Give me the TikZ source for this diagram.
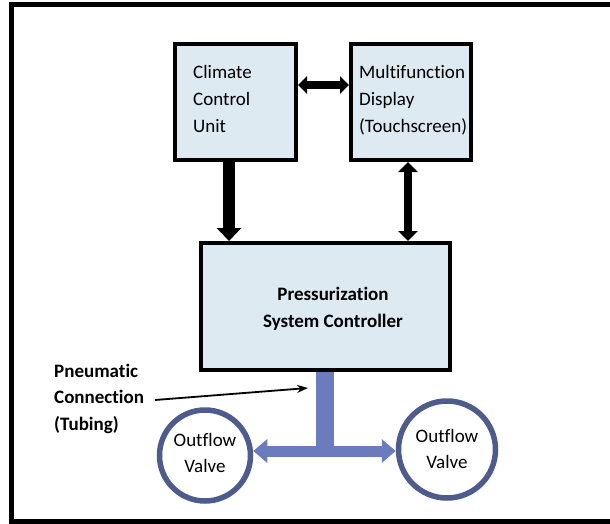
\documentclass[tikz,border=0pt]{standalone}
\usepackage{fontspec}
\setmainfont{Carlito}[Ligatures=NoCommon]
\usetikzlibrary{arrows.meta}
\definecolor{boxfill}{HTML}{DEEAF2}
\definecolor{tube}{HTML}{6A7CBD}
\definecolor{valveedge}{HTML}{4D5C8C}
\tikzset{
  unitbox/.style={draw=black, line width=4pt, fill=boxfill},
  lbl/.style={inner sep=0pt, align=left, font=\fontsize{19}{27}\selectfont},
  clbl/.style={inner sep=0pt, align=center, font=\fontsize{19}{26}\selectfont},
  valve/.style={circle, draw=valveedge, line width=5.5pt, fill=white, inner sep=0pt},
}
\begin{document}
\begin{tikzpicture}[x=1pt, y=-1pt]
\useasboundingbox (0,0) rectangle (610,524);
\fill[white] (0,0) rectangle (610,524);
% outer frame, open on the right
\begin{scope}
\clip (0,0) rectangle (610,524);
\draw[line width=4.5pt] (620,4.5) -- (11.5,4.5) -- (11.5,521.5) -- (620,521.5);
\end{scope}

% boxes
\node[unitbox, minimum width=121pt, minimum height=116pt] (ccu) at (235.5,102) {};
\node[unitbox, minimum width=120pt, minimum height=116pt] (mfd) at (411,102) {};
\node[unitbox, minimum width=249pt, minimum height=127pt] (psc) at (325.5,306.5) {};

% labels (anchored on the baseline of their last line)
\node[lbl, anchor=base west] (ccut) at (193,132) {Climate\\Control\\Unit};
\node[lbl, anchor=base west] (mfdt) at (359,132) {Multifunction\\Display\\(Touchscreen)};
\node[clbl, anchor=base, font=\fontsize{19}{27}\bfseries] (psct) at (333,327) {Pressurization\\System Controller};

% signal arrows
\draw[line width=11.5pt, -{Triangle[length=13pt, width=24pt]}] (ccu.south -| 229,0) -- (psc.north -| 229,0);
\draw[line width=7.5pt, {Triangle[length=10pt, width=19pt]}-{Triangle[length=10pt, width=19pt]}] (mfd.south -| 408,0) -- (psc.north -| 408,0);
\draw[line width=8pt, {Triangle[length=9pt, width=17pt]}-{Triangle[length=9pt, width=17pt]}] (ccu.east |- 0,85) -- (mfd.west |- 0,85);

% pneumatic tubing
\coordinate (tee) at (325,451);
\node[valve, minimum size=91pt] (lv) at (205,455.5) {};
\node[valve, minimum size=97pt] (rv) at (447,449.5) {};
\fill[tube] (316,372) rectangle (334,451);
\draw[tube, line width=11pt, {Triangle[length=14pt, width=23pt]}-{Triangle[length=14pt, width=23pt]}] (lv.east |- tee) -- (rv.west |- tee);

\node[clbl, anchor=base] (lvt) at (205,472) {Outflow\\Valve};
\node[clbl, anchor=base] (rvt) at (447,468) {Outflow\\Valve};

% callout
\node[lbl, anchor=base west, font=\fontsize{19}{26.5}\bfseries] (pn) at (54,430) {Pneumatic\\Connection\\(Tubing)};
\coordinate (pntip) at (308,388);
\draw[line width=1.8pt, -{Stealth[length=11pt, width=8pt]}] (155,400) -- (pntip);
\end{tikzpicture}
\end{document}
